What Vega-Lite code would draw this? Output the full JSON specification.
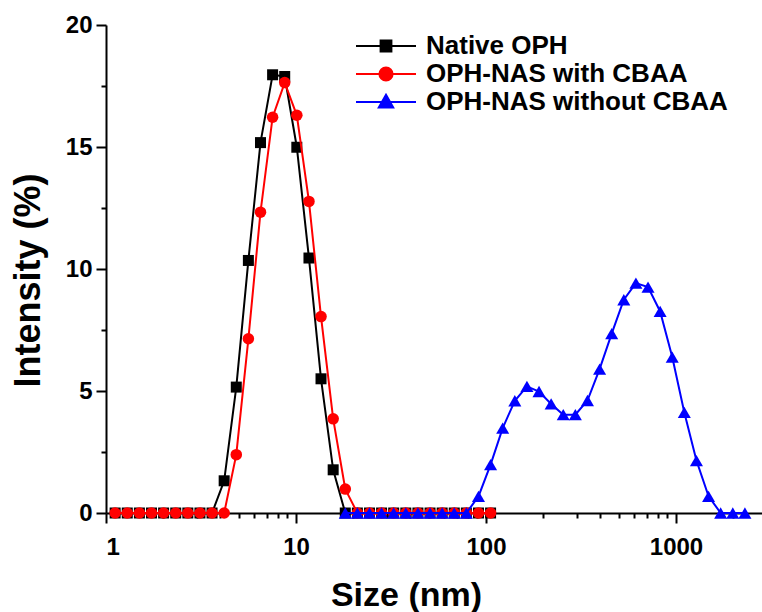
{
  "$schema": "https://vega.github.io/schema/vega-lite/v6.json",
  "width": 656,
  "height": 488,
  "autosize": {"type": "none"},
  "padding": {"left": 106, "top": 25, "right": 0, "bottom": 99},
  "background": "white",
  "config": {
    "view": {"stroke": null},
    "font": "Liberation Sans",
    "axis": {
      "grid": false,
      "domainColor": "black",
      "domainWidth": 2,
      "tickColor": "black",
      "tickWidth": 2,
      "labelFont": "Liberation Sans",
      "labelFontSize": 24,
      "labelFontWeight": "bold",
      "labelColor": "black",
      "titleFont": "Liberation Sans",
      "titleFontSize": 34,
      "titleFontWeight": "bold",
      "titleColor": "black"
    }
  },
  "data": {
    "values": [
      {"s": "Native OPH", "x": 1.117, "y": 0},
      {"s": "Native OPH", "x": 1.294, "y": 0},
      {"s": "Native OPH", "x": 1.499, "y": 0},
      {"s": "Native OPH", "x": 1.736, "y": 0},
      {"s": "Native OPH", "x": 2.01, "y": 0},
      {"s": "Native OPH", "x": 2.328, "y": 0},
      {"s": "Native OPH", "x": 2.696, "y": 0},
      {"s": "Native OPH", "x": 3.122, "y": 0},
      {"s": "Native OPH", "x": 3.615, "y": 0},
      {"s": "Native OPH", "x": 4.187, "y": 1.32},
      {"s": "Native OPH", "x": 4.849, "y": 5.16},
      {"s": "Native OPH", "x": 5.615, "y": 10.35},
      {"s": "Native OPH", "x": 6.503, "y": 15.18},
      {"s": "Native OPH", "x": 7.531, "y": 17.96},
      {"s": "Native OPH", "x": 8.721, "y": 17.89},
      {"s": "Native OPH", "x": 10.1, "y": 14.99},
      {"s": "Native OPH", "x": 11.7, "y": 10.45},
      {"s": "Native OPH", "x": 13.54, "y": 5.5},
      {"s": "Native OPH", "x": 15.69, "y": 1.77},
      {"s": "Native OPH", "x": 18.17, "y": 0},
      {"s": "Native OPH", "x": 21.04, "y": 0},
      {"s": "Native OPH", "x": 24.36, "y": 0},
      {"s": "Native OPH", "x": 28.21, "y": 0},
      {"s": "Native OPH", "x": 32.67, "y": 0},
      {"s": "Native OPH", "x": 37.84, "y": 0},
      {"s": "Native OPH", "x": 43.82, "y": 0},
      {"s": "Native OPH", "x": 50.75, "y": 0},
      {"s": "Native OPH", "x": 58.77, "y": 0},
      {"s": "Native OPH", "x": 68.06, "y": 0},
      {"s": "Native OPH", "x": 78.82, "y": 0},
      {"s": "Native OPH", "x": 91.28, "y": 0},
      {"s": "Native OPH", "x": 105.7, "y": 0},
      {"s": "OPH-NAS with CBAA", "x": 1.117, "y": 0},
      {"s": "OPH-NAS with CBAA", "x": 1.294, "y": 0},
      {"s": "OPH-NAS with CBAA", "x": 1.499, "y": 0},
      {"s": "OPH-NAS with CBAA", "x": 1.736, "y": 0},
      {"s": "OPH-NAS with CBAA", "x": 2.01, "y": 0},
      {"s": "OPH-NAS with CBAA", "x": 2.328, "y": 0},
      {"s": "OPH-NAS with CBAA", "x": 2.696, "y": 0},
      {"s": "OPH-NAS with CBAA", "x": 3.122, "y": 0},
      {"s": "OPH-NAS with CBAA", "x": 3.615, "y": 0},
      {"s": "OPH-NAS with CBAA", "x": 4.187, "y": 0},
      {"s": "OPH-NAS with CBAA", "x": 4.849, "y": 2.39},
      {"s": "OPH-NAS with CBAA", "x": 5.615, "y": 7.14},
      {"s": "OPH-NAS with CBAA", "x": 6.503, "y": 12.33},
      {"s": "OPH-NAS with CBAA", "x": 7.531, "y": 16.22},
      {"s": "OPH-NAS with CBAA", "x": 8.721, "y": 17.64},
      {"s": "OPH-NAS with CBAA", "x": 10.1, "y": 16.3},
      {"s": "OPH-NAS with CBAA", "x": 11.7, "y": 12.77},
      {"s": "OPH-NAS with CBAA", "x": 13.54, "y": 8.05},
      {"s": "OPH-NAS with CBAA", "x": 15.69, "y": 3.86},
      {"s": "OPH-NAS with CBAA", "x": 18.17, "y": 0.98},
      {"s": "OPH-NAS with CBAA", "x": 21.04, "y": 0},
      {"s": "OPH-NAS with CBAA", "x": 24.36, "y": 0},
      {"s": "OPH-NAS with CBAA", "x": 28.21, "y": 0},
      {"s": "OPH-NAS with CBAA", "x": 32.67, "y": 0},
      {"s": "OPH-NAS with CBAA", "x": 37.84, "y": 0},
      {"s": "OPH-NAS with CBAA", "x": 43.82, "y": 0},
      {"s": "OPH-NAS with CBAA", "x": 50.75, "y": 0},
      {"s": "OPH-NAS with CBAA", "x": 58.77, "y": 0},
      {"s": "OPH-NAS with CBAA", "x": 68.06, "y": 0},
      {"s": "OPH-NAS with CBAA", "x": 78.82, "y": 0},
      {"s": "OPH-NAS with CBAA", "x": 91.28, "y": 0},
      {"s": "OPH-NAS with CBAA", "x": 105.7, "y": 0},
      {"s": "OPH-NAS without CBAA", "x": 18.17, "y": 0},
      {"s": "OPH-NAS without CBAA", "x": 21.04, "y": 0},
      {"s": "OPH-NAS without CBAA", "x": 24.36, "y": 0},
      {"s": "OPH-NAS without CBAA", "x": 28.21, "y": 0},
      {"s": "OPH-NAS without CBAA", "x": 32.67, "y": 0},
      {"s": "OPH-NAS without CBAA", "x": 37.84, "y": 0},
      {"s": "OPH-NAS without CBAA", "x": 43.82, "y": 0},
      {"s": "OPH-NAS without CBAA", "x": 50.75, "y": 0},
      {"s": "OPH-NAS without CBAA", "x": 58.77, "y": 0},
      {"s": "OPH-NAS without CBAA", "x": 68.06, "y": 0},
      {"s": "OPH-NAS without CBAA", "x": 78.82, "y": 0},
      {"s": "OPH-NAS without CBAA", "x": 91.28, "y": 0.68},
      {"s": "OPH-NAS without CBAA", "x": 105.7, "y": 1.98},
      {"s": "OPH-NAS without CBAA", "x": 122.4, "y": 3.48},
      {"s": "OPH-NAS without CBAA", "x": 141.8, "y": 4.6},
      {"s": "OPH-NAS without CBAA", "x": 164.2, "y": 5.19},
      {"s": "OPH-NAS without CBAA", "x": 190.1, "y": 4.98},
      {"s": "OPH-NAS without CBAA", "x": 220.2, "y": 4.47},
      {"s": "OPH-NAS without CBAA", "x": 255.0, "y": 4.03},
      {"s": "OPH-NAS without CBAA", "x": 295.3, "y": 4.03},
      {"s": "OPH-NAS without CBAA", "x": 342.0, "y": 4.61},
      {"s": "OPH-NAS without CBAA", "x": 396.1, "y": 5.9},
      {"s": "OPH-NAS without CBAA", "x": 458.7, "y": 7.35},
      {"s": "OPH-NAS without CBAA", "x": 531.2, "y": 8.74},
      {"s": "OPH-NAS without CBAA", "x": 615.1, "y": 9.42},
      {"s": "OPH-NAS without CBAA", "x": 712.4, "y": 9.26},
      {"s": "OPH-NAS without CBAA", "x": 825.0, "y": 8.26},
      {"s": "OPH-NAS without CBAA", "x": 955.4, "y": 6.39},
      {"s": "OPH-NAS without CBAA", "x": 1106, "y": 4.12},
      {"s": "OPH-NAS without CBAA", "x": 1281, "y": 2.15},
      {"s": "OPH-NAS without CBAA", "x": 1484, "y": 0.68},
      {"s": "OPH-NAS without CBAA", "x": 1718, "y": 0},
      {"s": "OPH-NAS without CBAA", "x": 1990, "y": 0},
      {"s": "OPH-NAS without CBAA", "x": 2305, "y": 0}
    ]
  },
  "layer": [
    {
      "transform": [{"filter": "datum.s === 'Native OPH'"}],
      "mark": {"type": "line", "strokeWidth": 2},
      "encoding": {
        "x": {
          "field": "x", "type": "quantitative",
          "scale": {"type": "log", "domain": [1, 2835], "nice": false},
          "axis": {"values": [1, 10, 100, 1000], "format": "d", "tickSize": 10, "labelPadding": 12,
                   "title": "Size (nm)", "titleBaseline": "alphabetic", "titleY": 92, "titleX": 300, "titleAlign": "center"}
        },
        "y": {
          "field": "y", "type": "quantitative",
          "scale": {"domain": [0, 20], "nice": false},
          "axis": {"values": [0, 5, 10, 15, 20], "format": "d", "tickSize": 10, "labelPadding": 4,
                   "title": "Intensity (%)", "titleFontSize": 36, "titleAngle": 270, "titleBaseline": "alphabetic",
                   "titleAlign": "center", "titleX": -67, "titleY": 255}
        },
        "color": {
          "field": "s", "type": "nominal",
          "scale": {"domain": ["Native OPH", "OPH-NAS with CBAA", "OPH-NAS without CBAA"], "range": ["#000000", "#ff0000", "#0000ff"]},
          "legend": {
            "title": null, "orient": "none", "legendX": 267, "legendY": 8, "padding": 0,
            "symbolSize": 100, "symbolType": "square",
            "labelFont": "Liberation Sans", "labelFontSize": 26, "labelFontWeight": "bold", "labelColor": "black",
            "labelOffset": 27, "labelLimit": 500, "rowPadding": 2,
            "encode": {
              "symbols": {
                "update": {
                  "shape": {"signal": "datum.value === 'Native OPH' ? 'M-3,0H3M-0.54,-0.54H0.54V0.54H-0.54Z' : datum.value === 'OPH-NAS with CBAA' ? 'M-3,0H3M-0.66,0A0.66,0.66 0 1,0 0.66,0A0.66,0.66 0 1,0 -0.66,0Z' : 'M-3,0H3M0,-0.72L0.72,0.54L-0.72,0.54Z'"},
                  "size": {"value": 400},
                  "fill": {"scale": "color", "field": "value"},
                  "stroke": {"scale": "color", "field": "value"},
                  "strokeWidth": {"value": 2},
                  "opacity": {"value": 1},
                  "fillOpacity": {"value": 1},
                  "strokeOpacity": {"value": 1}
                }
              }
            }
          }
        }
      }
    },
    {
      "transform": [{"filter": "datum.s === 'Native OPH'"}],
      "mark": {"type": "point", "shape": "square", "filled": true, "size": 121, "opacity": 1},
      "encoding": {
        "x": {"field": "x", "type": "quantitative",
              "axis": {"orient": "bottom", "values": [2,3,4,5,6,7,8,9,20,30,40,50,60,70,80,90,200,300,400,500,600,700,800,900,2000], "labels": false, "domain": false, "tickSize": 5, "title": null}},
        "y": {"field": "y", "type": "quantitative",
              "axis": {"orient": "left", "values": [2.5, 7.5, 12.5, 17.5], "labels": false, "domain": false, "tickSize": 5, "title": null}},
        "color": {"field": "s", "type": "nominal"}
      }
    },
    {
      "transform": [{"filter": "datum.s === 'OPH-NAS with CBAA'"}],
      "mark": {"type": "line", "strokeWidth": 2},
      "encoding": {
        "x": {"field": "x", "type": "quantitative", "axis": null},
        "y": {"field": "y", "type": "quantitative", "axis": null},
        "color": {"field": "s", "type": "nominal"}
      }
    },
    {
      "transform": [{"filter": "datum.s === 'OPH-NAS with CBAA'"}],
      "mark": {"type": "point", "shape": "circle", "filled": true, "size": 133, "opacity": 1},
      "encoding": {
        "x": {"field": "x", "type": "quantitative", "axis": null},
        "y": {"field": "y", "type": "quantitative", "axis": null},
        "color": {"field": "s", "type": "nominal"}
      }
    },
    {
      "transform": [{"filter": "datum.s === 'OPH-NAS without CBAA'"}],
      "mark": {"type": "line", "strokeWidth": 2},
      "encoding": {
        "x": {"field": "x", "type": "quantitative", "axis": null},
        "y": {"field": "y", "type": "quantitative", "axis": null},
        "color": {"field": "s", "type": "nominal"}
      }
    },
    {
      "transform": [{"filter": "datum.s === 'OPH-NAS without CBAA'"}],
      "mark": {"type": "point", "shape": "triangle-up", "filled": true, "size": 170, "opacity": 1},
      "encoding": {
        "x": {"field": "x", "type": "quantitative", "axis": null},
        "y": {"field": "y", "type": "quantitative", "axis": null},
        "color": {"field": "s", "type": "nominal"}
      }
    }
  ],
  "resolve": {"axis": {"x": "independent", "y": "independent"}}
}
